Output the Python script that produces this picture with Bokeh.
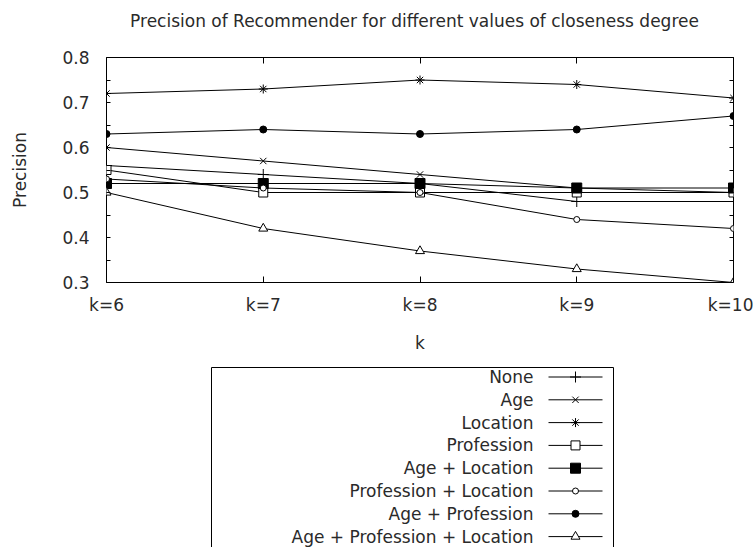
from bokeh.plotting import figure
from bokeh.models import FixedTicker, LinearAxis, Range1d
from bokeh.layouts import column
from bokeh.embed import file_html
from bokeh.resources import INLINE
from bokeh.core.properties import value

# ---------------- data ----------------
title_text = "Precision of Recommender for different values of closeness degree"
k_values = [6, 7, 8, 9, 10]
k_labels = ["k=6", "k=7", "k=8", "k=9", "k=10"]

series_names = ["None", "Age", "Location", "Profession", "Age + Location",
                "Profession + Location", "Age + Profession",
                "Age + Profession + Location"]

prec_none = [0.56, 0.54, 0.52, 0.48, 0.48]
prec_age = [0.60, 0.57, 0.54, 0.51, 0.50]
prec_location = [0.72, 0.73, 0.75, 0.74, 0.71]
prec_profession = [0.55, 0.50, 0.50, 0.50, 0.50]
prec_age_location = [0.52, 0.52, 0.52, 0.51, 0.51]
prec_prof_location = [0.53, 0.51, 0.50, 0.44, 0.42]
prec_age_prof = [0.63, 0.64, 0.63, 0.64, 0.67]
prec_age_prof_loc = [0.50, 0.42, 0.37, 0.33, 0.30]

series_values = [prec_none, prec_age, prec_location, prec_profession,
                 prec_age_location, prec_prof_location, prec_age_prof,
                 prec_age_prof_loc]

y_ticks = [0.3, 0.4, 0.5, 0.6, 0.7, 0.8]
y_minor_ticks = [0.35, 0.45, 0.55, 0.65, 0.75]

# ---------------- styles ----------------
marker_styles = [
    ("cross", 11, None),
    ("x", 9, None),
    ("asterisk", 9, None),
    ("square", 9, "white"),
    ("square", 10, "black"),
    ("circle", 6, "white"),
    ("circle", 7, "black"),
    ("triangle", 9, "white"),
]

FONT = "DejaVu Sans"
FS = "17px"
TXT = "#2a2a2a"

W = 753
FRAME_L, FRAME_R = 106, 733
TITLE_H = 40
TOP_H = 315
LEG_H = 192
Y0_MAIN = TITLE_H
Y0_LEG = TITLE_H + TOP_H


def panel(height, y_top):
    f = figure(width=W, height=height,
               x_range=Range1d(FRAME_L, FRAME_R), y_range=Range1d(y_top + height, y_top),
               output_backend="svg", toolbar_location=None,
               min_border_left=FRAME_L, min_border_right=W - FRAME_R,
               min_border_top=0, min_border_bottom=0)
    f.axis.visible = False
    f.grid.visible = False
    f.outline_line_color = None
    return f


# ---------------- title panel ----------------
tp = panel(TITLE_H, 0)
tp.text(x=[414], y=[20], text=[title_text], text_align="center", text_baseline="middle",
        text_font=value(FONT), text_font_size=FS, text_color=TXT)

# ---------------- main plot ----------------
p = figure(width=W, height=TOP_H,
           x_range=Range1d(6, 10), y_range=Range1d(0.3, 0.8),
           output_backend="svg", toolbar_location=None,
           min_border_left=FRAME_L, min_border_right=W - FRAME_R,
           min_border_top=57 - TITLE_H, min_border_bottom=Y0_LEG - 287,
           x_axis_label="k", y_axis_label="Precision")

p.grid.visible = False
p.outline_line_color = "black"
p.outline_line_alpha = 1.0
p.outline_line_width = 1

for ax in p.xaxis:
    ax.ticker = FixedTicker(ticks=k_values)
    ax.major_label_overrides = dict(zip(k_values, k_labels))
    ax.major_tick_in = 6
    ax.major_tick_out = 0
    ax.axis_line_color = None
    ax.major_label_standoff = 12
    ax.axis_label_standoff = 15

for ax in p.yaxis:
    ax.ticker = FixedTicker(ticks=y_ticks, minor_ticks=y_minor_ticks)
    ax.major_tick_in = 4
    ax.major_tick_out = 0
    ax.minor_tick_in = 4
    ax.minor_tick_out = 0
    ax.axis_line_color = None
    ax.major_label_standoff = 17
    ax.axis_label_standoff = 29

for ax in list(p.xaxis) + list(p.yaxis):
    ax.major_label_text_font = FONT
    ax.major_label_text_font_size = FS
    ax.major_label_text_color = TXT
    ax.axis_label_text_font = FONT
    ax.axis_label_text_font_size = FS
    ax.axis_label_text_font_style = "normal"
    ax.axis_label_text_color = TXT
    ax.major_tick_line_color = "black"
for ax in p.xaxis:
    ax.minor_tick_line_color = None
for ax in p.yaxis:
    ax.minor_tick_line_color = "black"

top_axis = LinearAxis(ticker=FixedTicker(ticks=k_values),
                      major_label_overrides={t: "" for t in k_values},
                      major_label_text_font_size="1px",
                      major_label_standoff=0,
                      major_tick_in=6, major_tick_out=0,
                      minor_tick_line_color=None, axis_line_color=None)
p.add_layout(top_axis, "above")

right_axis = LinearAxis(ticker=FixedTicker(ticks=y_ticks, minor_ticks=y_minor_ticks),
                        major_label_overrides={t: "" for t in y_ticks},
                        major_label_text_font_size="1px",
                        major_label_standoff=0,
                        major_tick_in=4, major_tick_out=0,
                        minor_tick_in=4, minor_tick_out=0,
                        axis_line_color=None)
p.add_layout(right_axis, "right")

for vals, (mk, sz, fill) in zip(series_values, marker_styles):
    p.line(k_values, vals, line_color="black", line_width=1)
    p.scatter(k_values, vals, marker=mk, size=sz, line_color="black",
              line_width=1, fill_color=fill if fill else "white",
              fill_alpha=1.0 if fill else 0.0)

# ---------------- legend panel (page-pixel coordinates) ----------------
leg = panel(LEG_H, Y0_LEG)

box_left, box_right, box_top = 211, 613, 367
leg.quad(left=[box_left], right=[box_right], top=[box_top], bottom=[Y0_LEG + LEG_H + 20],
         fill_color=None, line_color="black", line_width=1)

row_start, row_step = 376.5, 22.8
ys = [row_start + i * row_step for i in range(len(series_names))]
text_right = 533
seg_x0, seg_x1, mark_x = 548, 602, 575

leg.text(x=[text_right] * len(ys), y=ys, text=series_names,
         text_align="right", text_baseline="middle",
         text_font=value(FONT), text_font_size=FS, text_color=TXT)
leg.segment(x0=[seg_x0] * len(ys), y0=ys, x1=[seg_x1] * len(ys), y1=ys,
            line_color="black", line_width=1)
for yv, (mk, sz, fill) in zip(ys, marker_styles):
    leg.scatter([mark_x], [yv], marker=mk, size=sz, line_color="black",
                line_width=1, fill_color=fill if fill else "white",
                fill_alpha=1.0 if fill else 0.0)

layout = column(tp, p, leg)
open("out.html", "w").write(file_html(layout, INLINE))
